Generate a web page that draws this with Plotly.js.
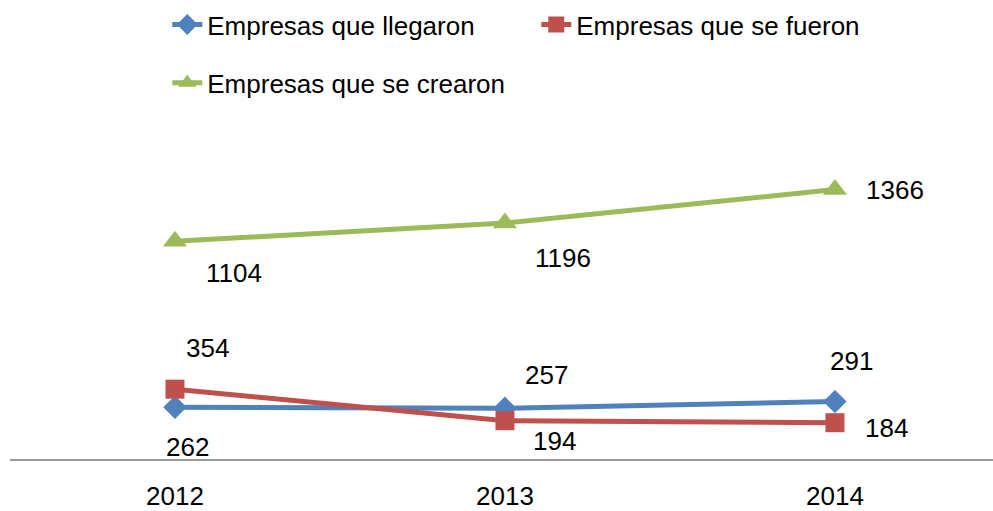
<!DOCTYPE html>
<html>
<head>
<meta charset="utf-8">
<script src="https://cdn.plot.ly/plotly-3.0.1.min.js"></script>
<style>html,body{margin:0;padding:0;background:#fff}#chart{width:993px;height:511px}</style>
</head>
<body>
<div id="chart"></div>
<script>
// ---- data ----
const years = ['2012', '2013', '2014'];
const seriesNames = ['Empresas que llegaron', 'Empresas que se fueron', 'Empresas que se crearon'];
const llegaron = [262, 257, 291];
const fueron = [354, 194, 184];
const crearon = [1104, 1196, 1366];

// ---- styling ----
const FONT = 'Liberation Sans, Arial, sans-serif';
const FS = 26;
const colors = ['#4F81BD', '#C0504D', '#9BBB59'];
const symbols = ['diamond', 'square', 'triangle-up'];
const msizes = [18, 19, 21];
// label offsets in px (dx, dy up-positive) per series / point
const labelOffsets = [
  [[13, -40], [42, 33], [17, 41]],
  [[33, 41], [50, -20], [52, -5]],
  [[59, -32], [58, -35], [60, 0]]
];
const allSeries = [llegaron, fueron, crearon];
const xIdx = years.map((_, i) => i);

const traces = allSeries.map((vals, s) => ({
  type: 'scatter',
  mode: 'lines+markers',
  name: seriesNames[s],
  x: xIdx,
  y: vals,
  line: {color: colors[s], width: 5},
  marker: {symbol: symbols[s], size: msizes[s], color: colors[s]},
  legend: s === 2 ? 'legend2' : 'legend',
  hoverinfo: 'x+y'
}));

const annotations = [];
allSeries.forEach((vals, s) => {
  vals.forEach((v, i) => {
    annotations.push({
      x: xIdx[i], y: v, xref: 'x', yref: 'y',
      text: String(v), showarrow: false,
      xshift: labelOffsets[s][i][0], yshift: labelOffsets[s][i][1],
      font: {family: FONT, size: FS, color: '#000'}
    });
  });
});

const legendCommon = {
  orientation: 'h',
  xanchor: 'left', yanchor: 'middle',
  font: {family: FONT, size: FS, color: '#000'},
  bgcolor: 'rgba(0,0,0,0)',
  itemwidth: 30
};

const layout = {
  width: 993, height: 511,
  margin: {l: 10, r: 0, t: 100, b: 52},
  paper_bgcolor: '#fff', plot_bgcolor: '#fff',
  showlegend: true,
  legend: Object.assign({}, legendCommon, {x: 0.160, y: 1.21, entrywidth: 324, entrywidthmode: 'pixels'}),
  legend2: Object.assign({}, legendCommon, {x: 0.160, y: 1.048}),
  xaxis: {
    range: [-0.5, 2.479],
    tickvals: xIdx, ticktext: years,
    showgrid: false, zeroline: false,
    showline: true, linecolor: '#999', linewidth: 1.5,
    ticks: '', ticklabelstandoff: 13,
    tickfont: {family: FONT, size: FS, color: '#000'},
    fixedrange: true
  },
  yaxis: {
    range: [0, 1820],
    visible: false,
    showgrid: false, zeroline: false,
    fixedrange: true
  },
  annotations: annotations
};

Plotly.newPlot('chart', traces, layout, {displayModeBar: false, staticPlot: true});
</script>
</body>
</html>
